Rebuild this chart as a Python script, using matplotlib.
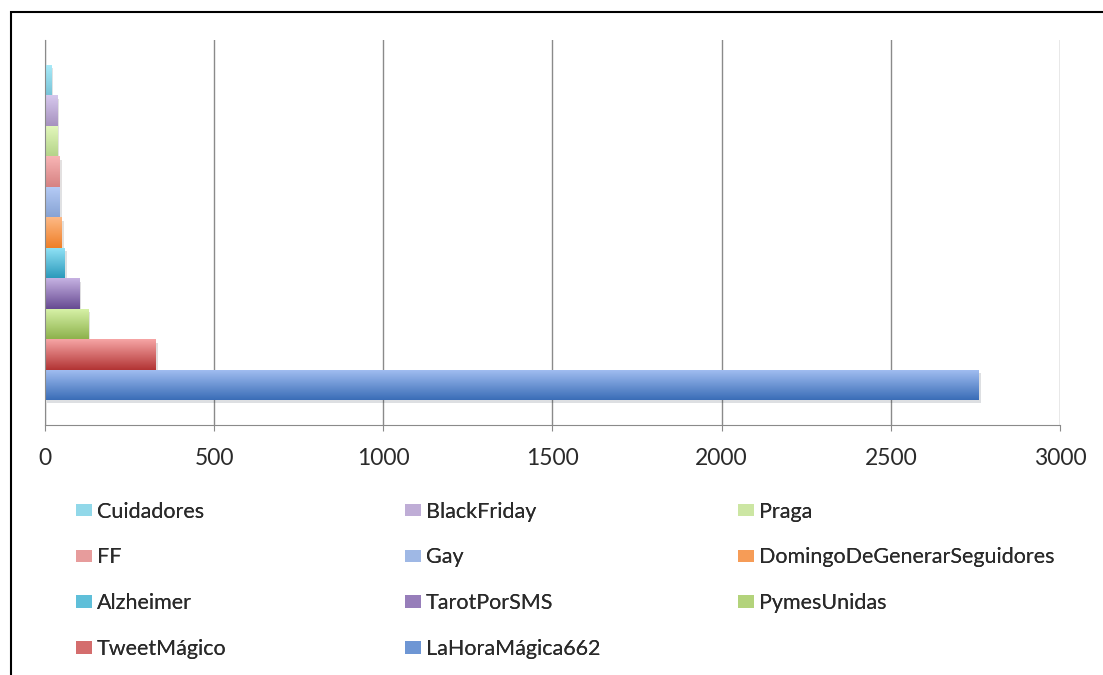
import matplotlib.pyplot as plt
import matplotlib.patheffects as pe
from matplotlib.colors import to_rgb
from matplotlib.patches import Rectangle, Patch
import numpy as np

plt.rcParams['font.family'] = ['Lato', 'DejaVu Sans']

# bottom to top, as in the chart
hashtags = ['LaHoraMágica662', 'TweetMágico', 'PymesUnidas', 'TarotPorSMS', 'Alzheimer',
            'DomingoDeGenerarSeguidores', 'Gay', 'FF', 'Praga', 'BlackFriday', 'Cuidadores']
counts = [2759, 328, 128, 101, 59, 49, 44, 44, 36, 36, 18]
top_colors = ['#A3BFF2', '#F6A5A5', '#D9F3AA', '#C6B2E2', '#92E3F7',
              '#FDB985', '#B6CCF6', '#F8B5B5', '#E3F8BC', '#D7C8ED', '#A9EBF9']
bottom_colors = ['#3A6DB7', '#B23434', '#8DB24C', '#674A92', '#2C9ABB',
                 '#EF7F28', '#87A3D4', '#D68282', '#B5D48A', '#A692BF', '#79C4D8']
xticks = [0, 500, 1000, 1500, 2000, 2500, 3000]

fig = plt.figure(figsize=(11.03, 6.75), dpi=100)
ax = fig.add_axes([0.0408, 0.3704, 0.9202, 0.5704])

ypos = np.arange(len(hashtags))
grad = np.linspace(0, 1, 64)
handles = {}
for i, (name, val) in enumerate(zip(hashtags, counts)):
    c0 = np.array(to_rgb(bottom_colors[i]))
    c1 = np.array(to_rgb(top_colors[i]))
    mid = (c0 + c1) / 2
    bars = ax.barh(ypos[i], val, height=1.0, color=mid, zorder=2,
                   path_effects=[pe.SimplePatchShadow(offset=(1.5, -2.5), alpha=0.15), pe.Normal()])
    rect = bars.patches[0]
    img = c0[None, :] + (c1 - c0)[None, :] * grad[:, None]
    im = ax.imshow(img[:, None, :], extent=[0, val, ypos[i] - 0.5, ypos[i] + 0.5],
                   origin='lower', aspect='auto', zorder=2.5, interpolation='bilinear')
    im.set_clip_path(rect)
    handles[name] = Patch(facecolor=mid, edgecolor='none')

ax.set_xlim(0, 3000)
ax.set_ylim(-1.32, 11.32)
ax.set_xticks(xticks)
ax.set_yticks([])
ax.set_axisbelow(True)
ax.grid(axis='x', color='#8a8a8a', linewidth=1.0)
for s in ['top', 'right']:
    ax.spines[s].set_visible(False)
for s in ['left', 'bottom']:
    ax.spines[s].set_color('#8a8a8a')
ax.tick_params(axis='x', direction='out', length=4.5, color='#8a8a8a', labelsize=16.5,
               labelcolor='#2a2a2a', pad=12)

# legend: three fixed-width columns, row-major order like the original
order = ['Cuidadores', 'BlackFriday', 'Praga', 'FF', 'Gay', 'DomingoDeGenerarSeguidores',
         'Alzheimer', 'TarotPorSMS', 'PymesUnidas', 'TweetMágico', 'LaHoraMágica662']
col_x = [0.0689, 0.367, 0.669]
for c in range(3):
    names = order[c::3]
    leg = fig.legend([handles[n] for n in names], names, loc='upper left',
                     bbox_to_anchor=(col_x[c], 0.257), frameon=False, fontsize=15.5,
                     handlelength=0.74, handleheight=0.51, handletextpad=0.23,
                     labelspacing=1.2, borderaxespad=0, borderpad=0, labelcolor='#2a2a2a')
    fig.add_artist(leg)

fig.add_artist(Rectangle((11 / 1103, -0.2), 1.2, 1.2 - 12 / 675, transform=fig.transFigure,
                         fill=False, edgecolor='black', linewidth=1.5))

fig.savefig('out.png', dpi=100)
